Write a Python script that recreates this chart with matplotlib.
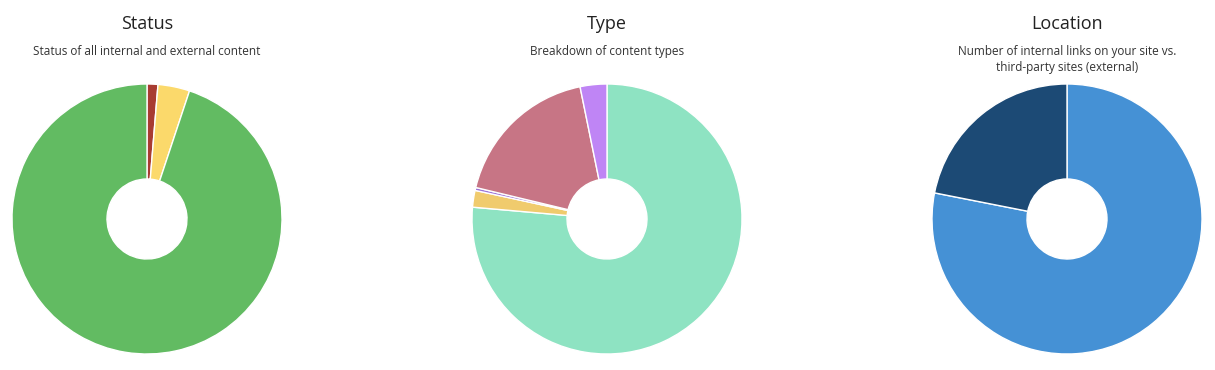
import matplotlib.pyplot as plt

plt.rcParams['font.family'] = ['Open Sans', 'DejaVu Sans']

W, H = 1215, 370

status_labels = ['Broken', 'Redirect', 'OK']
status_values = [1.3, 3.8, 94.9]
status_colors = ['#a83c32', '#fbd96b', '#62bb62']

type_labels = ['Page', 'Image', 'Script', 'Stylesheet', 'Other']
type_values = [76.4, 2.0, 0.35, 18.05, 3.2]
type_colors = ['#8ee3c2', '#f0cb6d', '#9c74d8', '#c77585', '#bf85f5']

loc_labels = ['Internal', 'External']
loc_values = [78.1, 21.9]
loc_colors = ['#4591d5', '#1c4a75']

charts = [
    (147, 'Status', 'Status of all internal and external content',
     status_values, status_colors),
    (607, 'Type', 'Breakdown of content types', type_values, type_colors),
    (1067, 'Location',
     'Number of internal links on your site vs.\nthird-party sites (external)',
     loc_values, loc_colors),
]

fig = plt.figure(figsize=(W / 100, H / 100), dpi=100)

cy = H - 219
r = 135
for cx, title, sub, vals, cols in charts:
    ax = fig.add_axes([(cx - r) / W, (cy - r) / H, 2 * r / W, 2 * r / H])
    ax.pie(vals, colors=cols, startangle=90, counterclock=False,
           wedgeprops=dict(width=1 - 40 / r, edgecolor='white', linewidth=1))
    ax.set_xlim(-1, 1)
    ax.set_ylim(-1, 1)
    ax.set_aspect('equal')
    ax.axis('off')

    fig.text(cx / W, 1 - 24 / H, title, ha='center', va='center',
             fontsize=13, color='#222222')
    fig.text(cx / W, 1 - 45 / H, sub, ha='center', va='top',
             fontsize=8.5, color='#333333', linespacing=1.3)

fig.savefig('out.png', dpi=100)
